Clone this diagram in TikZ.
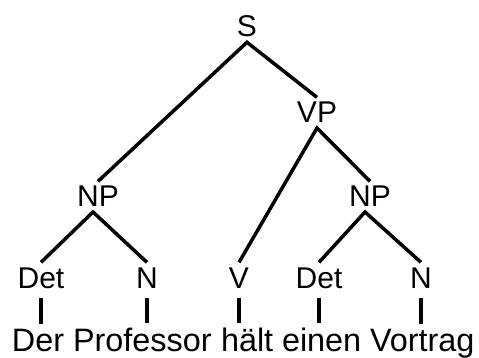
\documentclass[tikz,border=0pt]{standalone}
\usepackage{fontspec}
\setmainfont{Liberation Sans}
\usepackage{tikz}
\usetikzlibrary{calc}

\begin{document}
\begin{tikzpicture}[x=1pt,y=-1pt,
  cat/.style={font=\fontsize{30}{36}\selectfont,inner sep=0pt,outer sep=5pt,anchor=base},
  word/.style={font=\fontsize{32.4}{38}\selectfont,inner sep=0pt,outer sep=5pt,anchor=base west},
  edge/.style={color=black,line width=3.5pt},
  bar/.style={color=black,line width=3.5pt,shorten <=5pt}]
\useasboundingbox (0,0) rectangle (479,358);
\node[cat] (S) at (247,37) {S};
\node[cat] (VP) at (317,123) {VP};
\node[cat] (NPa) at (98,207) {NP};
\node[cat] (NPb) at (370,207) {NP};
\node[cat] (Deta) at (41,288) {Det};
\node[cat] (Na) at (147,288) {N};
\node[cat] (V) at (239,288) {V};
\node[cat] (Detb) at (319,288) {Det};
\node[cat] (Nb) at (421,288) {N};
\node[word] (Der) at (7,351) {Der};
\node[word] (Professor) at (68,351) {Professor};
\node[word] (haelt) at (216,351) {hält};
\node[word] (einen) at (277,351) {einen};
\node[word] (Vortrag) at (365,351) {Vortrag};
\draw[edge] (NPa.north) -- (S.south) -- (VP.north);
\draw[edge] (V.north) -- (VP.south) -- (NPb.north);
\draw[edge] (Deta.north) -- ([xshift=-5pt]NPa.south) -- (Na.north);
\draw[edge] (Detb.north) -- ([xshift=-5pt]NPb.south) -- (Nb.north);
\draw[bar] (Deta.south) -- (Deta.south |- Der.north);
\draw[bar] (Na.south) -- (Na.south |- Professor.north);
\draw[bar] (V.south) -- (V.south |- haelt.north);
\draw[bar] (Detb.south) -- (Detb.south |- einen.north);
\draw[bar] (Nb.south) -- (Nb.south |- Vortrag.north);
\end{tikzpicture}
\end{document}
